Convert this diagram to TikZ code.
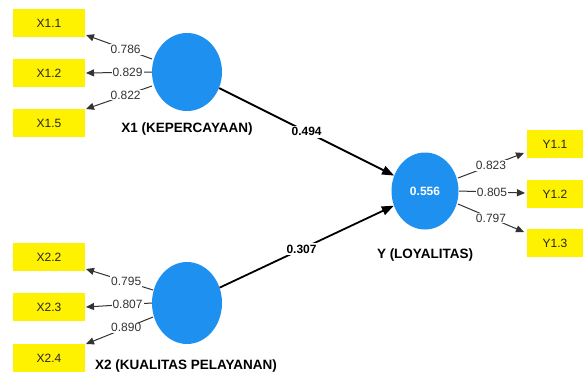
\documentclass[tikz,border=0pt]{standalone}
\usepackage{fontspec}
\setmainfont{Liberation Sans}
\usetikzlibrary{arrows.meta,shapes.geometric}
\definecolor{lvblue}{RGB}{30,144,240}
\definecolor{ind}{RGB}{255,242,0}
\tikzset{
  ibox/.style={fill=ind, draw=none, minimum width=72pt, minimum height=28pt, inner sep=0pt, font=\fontsize{12}{13}\selectfont, text=black!85},
  lv/.style={ellipse, fill=lvblue, draw=none, minimum width=70pt, minimum height=78pt, inner sep=0pt},
  lvlabel/.style={font=\fontsize{13.5}{14}\bfseries\selectfont},
  load/.style={draw=black!80, line width=1pt, -{Triangle[length=8pt,width=7pt]}},
  path/.style={draw=black, line width=1.8pt, -{Triangle[length=12pt,width=9pt]}},
  lnum/.style={fill=white, inner sep=1pt, font=\fontsize{12}{13}\selectfont, text=black!80},
  pnum/.style={fill=white, inner sep=1.5pt, font=\fontsize{12}{13}\bfseries\selectfont}
}
\begin{document}
\begin{tikzpicture}[x=1pt,y=-1pt]
\useasboundingbox (0,0) rectangle (585,378);
% indicator boxes
\node[ibox] (x11) at (49,23) {X1.1};
\node[ibox] (x12) at (49,73) {X1.2};
\node[ibox] (x15) at (49,123) {X1.5};
\node[ibox] (x22) at (49,257) {X2.2};
\node[ibox] (x23) at (49,307) {X2.3};
\node[ibox] (x24) at (49,358) {X2.4};
\node[ibox, minimum width=56pt] (y11) at (555,144) {Y1.1};
\node[ibox, minimum width=56pt] (y12) at (555,194) {Y1.2};
\node[ibox, minimum width=56pt] (y13) at (555,243) {Y1.3};
% latent variables
\node[lv] (x1) at (187,72) {};
\node[lv, minimum height=82pt] (x2) at (187,303) {};
\node[lv, minimum width=67pt, minimum height=77pt, text=white, font=\fontsize{12}{13}\bfseries\selectfont] (y) at (425,191) {0.556};
\node[lvlabel] (x1l) at (187,129) {X1 (KEPERCAYAAN)};
\node[lvlabel] (x2l) at (186,366) {X2 (KUALITAS PELAYANAN)};
\node[lvlabel] (yl) at (425,255) {Y (LOYALITAS)};
% coordinates on circles and boxes
\coordinate (x1a) at (152,59);
\coordinate (x1b) at (152,72);
\coordinate (x1c) at (152,86);
\coordinate (x2a) at (153,290);
\coordinate (x2b) at (152,303);
\coordinate (x2c) at (153,317);
\coordinate (ya) at (458,178);
\coordinate (yb) at (459,191);
\coordinate (yc) at (458,204);
\coordinate (t11) at (86,35);
\coordinate (t12) at (86,73);
\coordinate (t15) at (86,109);
\coordinate (t22) at (86,269);
\coordinate (t23) at (86,307);
\coordinate (t24) at (86,344);
\coordinate (ty1) at (524,153);
\coordinate (ty2) at (525,193);
\coordinate (ty3) at (524,232);
% loadings
\draw[load] (x1a) -- node[lnum, pos=0.4] {0.786} (t11);
\draw[load] (x1b) -- node[lnum, pos=0.37] {0.829} (t12);
\draw[load] (x1c) -- node[lnum, pos=0.4] {0.822} (t15);
\draw[load] (x2a) -- node[lnum, pos=0.4] {0.795} (t22);
\draw[load] (x2b) -- node[lnum, pos=0.37] {0.807} (t23);
\draw[load] (x2c) -- node[lnum, pos=0.4] {0.890} (t24);
\draw[load] (ya) -- node[lnum, pos=0.5] {0.823} (ty1);
\draw[load] (yb) -- node[lnum, pos=0.5] {0.805} (ty2);
\draw[load] (yc) -- node[lnum, pos=0.5] {0.797} (ty3);
% structural paths
\draw[path] (x1) -- node[pnum, pos=0.5] (p1) {0.494} (y);
\draw[path] (x2) -- node[pnum, pos=0.47] (p2) {0.307} (y);
\end{tikzpicture}
\end{document}
